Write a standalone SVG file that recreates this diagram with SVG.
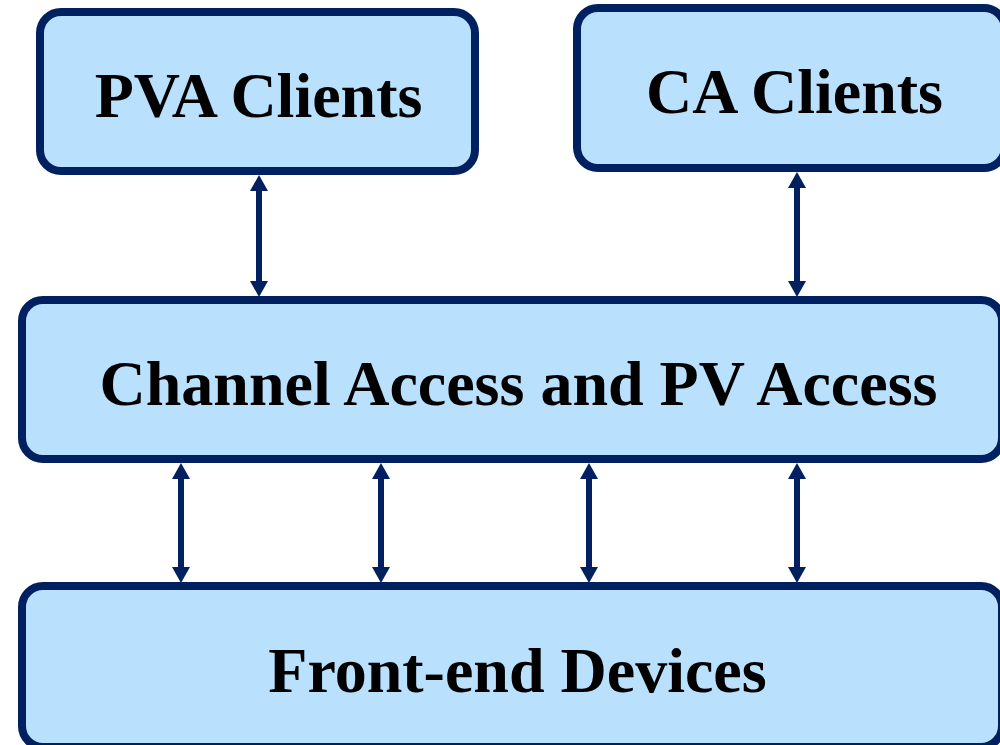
<svg xmlns="http://www.w3.org/2000/svg" width="1000" height="745" viewBox="0 0 1000 745">
<style>
.box{fill:#B9E0FC;stroke:#002060;stroke-width:8}
.lbl{font-family:"Liberation Serif","Times New Roman",serif;font-weight:bold;font-size:64px;fill:#000;text-anchor:middle}
.conn{stroke:#002060;stroke-width:6;fill:none;marker-start:url(#ah);marker-end:url(#ah)}
</style>
<defs>
<marker id="ah" viewBox="0 0 16 18" refX="6" refY="9" markerWidth="16" markerHeight="18" markerUnits="userSpaceOnUse" orient="auto-start-reverse">
<path d="M0,0 L16,9 L0,18 Z" fill="#002060"/>
</marker>
</defs>
<rect width="1000" height="745" fill="#fff"/>
<g id="connectors">
<line class="conn" x1="259" y1="185" x2="259" y2="287"/>
<line class="conn" x1="797" y1="182" x2="797" y2="287"/>
<line class="conn" x1="181" y1="473" x2="181" y2="573"/>
<line class="conn" x1="381" y1="473" x2="381" y2="573"/>
<line class="conn" x1="589" y1="473" x2="589" y2="573"/>
<line class="conn" x1="797" y1="473" x2="797" y2="573"/>
</g>
<g id="pva">
<rect class="box" x="40" y="12" width="435" height="159" rx="21"/>
<text class="lbl" x="258.5" y="117">PVA Clients</text>
</g>
<g id="ca">
<rect class="box" x="577" y="8" width="428" height="160" rx="21"/>
<text class="lbl" x="794.5" y="113">CA Clients</text>
</g>
<g id="access">
<rect class="box" x="22" y="300" width="980" height="159" rx="21"/>
<text class="lbl" x="518.5" y="405">Channel Access and PV Access</text>
</g>
<g id="frontend">
<rect class="box" x="22" y="586" width="980" height="161" rx="21"/>
<text class="lbl" x="517.5" y="692">Front-end Devices</text>
</g>
</svg>
